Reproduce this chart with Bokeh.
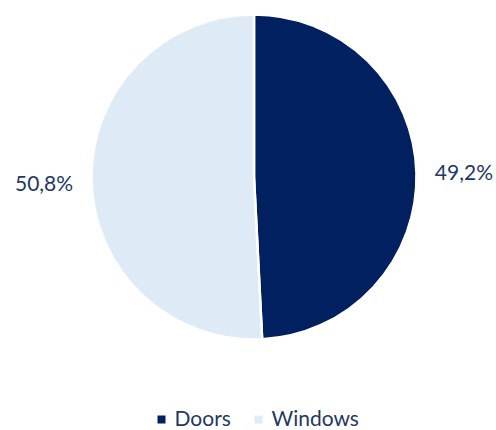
import math
from bokeh.plotting import figure
from bokeh.models import ColumnDataSource, Range1d
from bokeh.core.properties import value
from bokeh.embed import file_html
from bokeh.resources import INLINE

categories = ["Doors", "Windows"]
shares = [49.2, 50.8]
labels = ["49,2%", "50,8%"]
colors = ["#002060", "#DEEBF7"]

W, H = 496, 430
cx, cy, r = 253.5, H - 176.5, 162.5
label_r = 210

p = figure(width=W, height=H, output_backend="svg", toolbar_location=None,
           x_range=Range1d(0, W), y_range=Range1d(0, H), min_border=0,
           outline_line_color=None)
p.axis.visible = False
p.grid.visible = False
p.background_fill_color = "white"
p.border_fill_color = "white"

# clockwise from top
total = sum(shares)
starts, ends, lx, ly = [], [], [], []
cum = 0.0
for s in shares:
    a0 = math.pi / 2 - 2 * math.pi * cum / total
    a1 = math.pi / 2 - 2 * math.pi * (cum + s) / total
    starts.append(a1)
    ends.append(a0)
    mid = (a0 + a1) / 2
    lx.append(cx + label_r * math.cos(mid))
    ly.append(cy + label_r * math.sin(mid))
    cum += s

src = ColumnDataSource(dict(start=starts, end=ends, color=colors, cat=categories,
                            lx=lx, ly=ly, lab=labels))
p.wedge(x=cx, y=cy, radius=r, start_angle="start", end_angle="end",
        fill_color="color", line_color="white", line_width=2.5, source=src)
p.text(x="lx", y="ly", text="lab", source=src, text_align="center",
       text_baseline="middle", text_font=value("Lato"), text_font_size="21px",
       text_color="#1F3864")

# legend
leg_sq_x = [161, 258]
leg_tx = [174, 271]
leg_y = H - 419
p.scatter(x=leg_sq_x, y=[leg_y] * 2, marker="square", size=8,
          fill_color=colors, line_color=None)
p.text(x=leg_tx, y=[leg_y + 2] * 2, text=categories, text_align="left",
       text_baseline="middle", text_font=value("Lato"), text_font_size="21px",
       text_color="#1F3864", text_line_height=1.0)

open("out.html", "w").write(file_html(p, INLINE))
